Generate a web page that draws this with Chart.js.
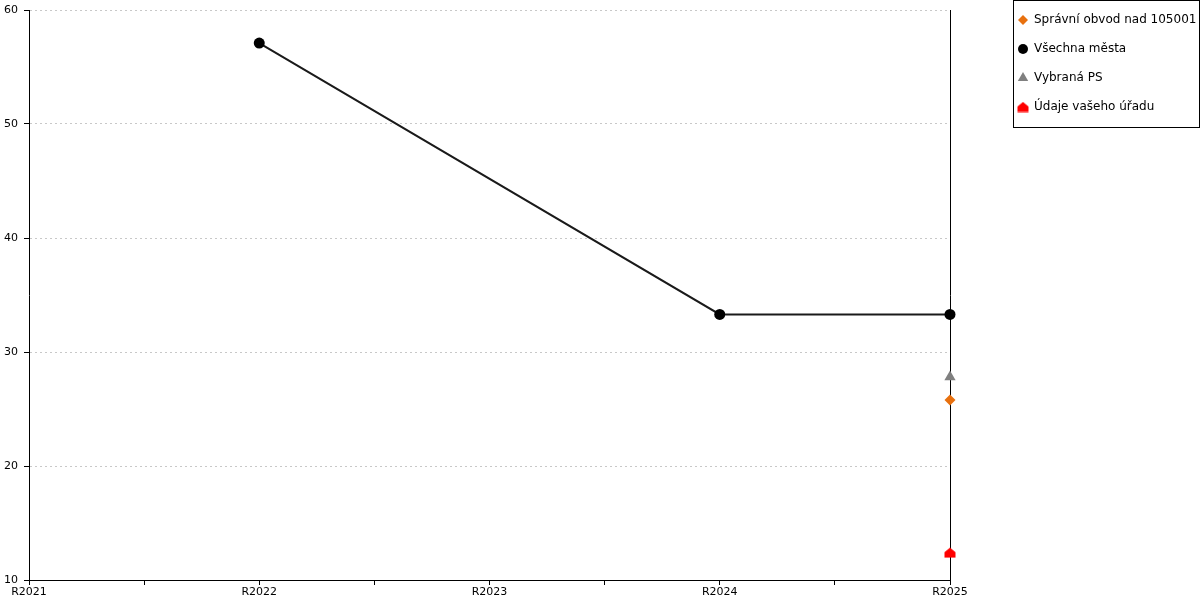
<!DOCTYPE html>
<html>
<head>
<meta charset="utf-8">
<script src="https://cdn.jsdelivr.net/npm/chart.js@4"></script>
<style>
html,body{margin:0;padding:0;background:#fff;}
#wrap{width:1200px;height:600px;position:relative;}
</style>
</head>
<body>
<div id="wrap"><canvas id="c" width="1200" height="600"></canvas></div>
<script>
// ---- data ----
const categories = ["R2021", "R2022", "R2023", "R2024", "R2025"];
const yTicks = [10, 20, 30, 40, 50, 60];
const seriesNames = ["Správní obvod nad 105001", "Všechna města", "Vybraná PS", "Údaje vašeho úřadu"];
const spravniObvod = [null, null, null, null, 25.8];
const vsechnaMesta = [null, 57.1, null, 33.3, 33.3];
const vybranaPS = [null, null, null, null, 27.8];
const udajeUradu = [null, null, null, null, 12.4];

// house-shaped point style
function makeHouse(color){
  const cv = document.createElement('canvas');
  cv.width = 12; cv.height = 11;
  const g = cv.getContext('2d');
  g.fillStyle = color;
  g.beginPath();
  g.moveTo(6, 0.5); g.lineTo(11.5, 5); g.lineTo(11.5, 10.5); g.lineTo(0.5, 10.5); g.lineTo(0.5, 5);
  g.closePath(); g.fill();
  return cv;
}
const house = makeHouse('#ff0000');

function toPoints(arr){
  return arr.map((v,i)=> v===null ? null : {x:i, y:v}).filter(p=>p!==null);
}

const datasets = [
  {label: seriesNames[0], data: toPoints(spravniObvod), showLine:false, pointStyle:'rectRot', pointRadius:5.5, pointHoverRadius:5.5,
   backgroundColor:'#E8700E', borderColor:'#E8700E', borderWidth:0, clip:false},
  {label: seriesNames[1], data: toPoints(vsechnaMesta), showLine:true, spanGaps:true, pointStyle:'circle', pointRadius:5.5, pointHoverRadius:5.5,
   backgroundColor:'#000', borderColor:'#1a1a1a', borderWidth:2, pointBorderWidth:0, tension:0, clip:false},
  {label: seriesNames[2], data: toPoints(vybranaPS), showLine:false, pointStyle:'triangle', pointRadius:6.5, pointHoverRadius:6.5,
   backgroundColor:'#808080', borderColor:'#808080', borderWidth:0, clip:false},
  {label: seriesNames[3], data: toPoints(udajeUradu), showLine:false, pointStyle:house, pointRadius:6,
   backgroundColor:'#ff0000', borderColor:'#ff0000', borderWidth:0, clip:false}
];

const legendMarkers = ['rectRot','circle','triangle', house];
const legendRadius = [5,5,6,6];

const legendPlugin = {
  id:'boxLegend',
  afterDraw(chart){
    const ctx = chart.ctx;
    ctx.save();
    ctx.strokeStyle = '#000'; ctx.lineWidth = 1;
    ctx.strokeRect(1013.5, 0.5, 186, 127);
    ctx.font = '12px "DejaVu Sans"';
    ctx.textBaseline = 'middle';
    ctx.textAlign = 'left';
    ctx.fillStyle = '#000';
    const ys = [20, 49, 78, 107];
    chart.data.datasets.forEach((ds, i)=>{
      ctx.save();
      ctx.fillStyle = ds.backgroundColor;
      ctx.strokeStyle = ds.backgroundColor;
      ctx.lineWidth = 0;
      Chart.helpers.drawPoint(ctx, {pointStyle: legendMarkers[i], radius: legendRadius[i], borderWidth: 0, rotation:0}, 1023, ys[i]);
      ctx.restore();
      ctx.fillStyle = '#000';
      ctx.fillText(ds.label, 1034, ys[i]);
    });
    ctx.restore();
  }
};

new Chart(document.getElementById('c'), {
  type: 'scatter',
  data: {datasets},
  options: {
    responsive:false,
    animation:false,
    events:[],
    layout:{padding:{top:10, left:0, right:0, bottom:0}},
    plugins:{legend:{display:false}, tooltip:{enabled:false}},
    scales:{
      x:{
        type:'linear', min:0, max:categories.length-1,
        afterBuildTicks(scale){
          const t=[]; for(let v=0; v<=categories.length-1+1e-9; v+=0.5) t.push({value:v});
          scale.ticks = t;
        },
        afterFit(scale){ scale.height = 20; scale.paddingLeft = 0; scale.paddingRight = 0; },
        ticks:{
          autoSkip:false, maxRotation:0, padding:1,
          color:'#000', font:{family:'DejaVu Sans', size:11},
          callback:(v)=> Number.isInteger(v) ? categories[v] : ''
        },
        grid:{drawOnChartArea:false, drawTicks:true, tickLength:5, tickColor:'#000', tickWidth:1},
        border:{display:true, color:'#000', width:1}
      },
      y:{
        type:'linear', min:yTicks[0], max:yTicks[yTicks.length-1],
        afterBuildTicks(scale){ scale.ticks = yTicks.map(v=>({value:v})); },
        afterFit(scale){ scale.width = 29; scale.paddingTop = 0; scale.paddingBottom = 0; },
        ticks:{color:'#000', padding:6, font:{family:'DejaVu Sans', size:11}},
        grid:{drawOnChartArea:true, color:'#c8c8c8', lineWidth:1, drawTicks:true, tickLength:5, tickColor:'#000', tickBorderDash:[1,0]},
        border:{display:true, color:'#000', width:1, dash:[2,3]}
      },
      y2:{
        type:'linear', position:'right', min:yTicks[0], max:yTicks[yTicks.length-1],
        afterFit(scale){ scale.width = 250; scale.paddingTop = 0; scale.paddingBottom = 0; },
        ticks:{display:false},
        grid:{display:true, drawOnChartArea:false, drawTicks:false},
        border:{display:true, color:'#000', width:1}
      }
    }
  },
  plugins:[legendPlugin]
});
</script>
</body>
</html>
